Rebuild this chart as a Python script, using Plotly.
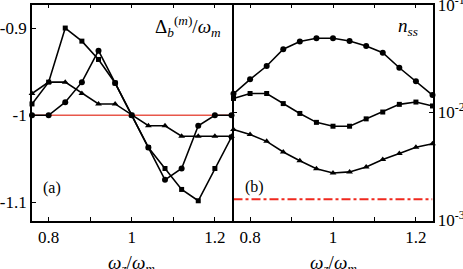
import plotly.graph_objects as go

wz = [0.76, 0.80, 0.84, 0.88, 0.92, 0.96, 1.00, 1.04, 1.08, 1.12, 1.16, 1.20, 1.24]

# panel (a): Delta_b^(m)/omega_m
delta_circle = [-1.000, -1.000, -0.985, -0.962, -0.926, -0.963, -1.000, -1.037, -1.074, -1.061, -1.012, -1.000, -1.000]
delta_square = [-0.987, -0.962, -0.900, -0.915, -0.936, -0.963, -1.000, -1.037, -1.061, -1.085, -1.098, -1.061, -1.025]
delta_triangle = [-0.975, -0.962, -0.962, -0.975, -0.987, -0.987, -1.000, -1.012, -1.012, -1.024, -1.024, -1.024, -1.024]
delta_ref = -1.0

# panel (b): n_ss
n_circle = [0.0149, 0.0203, 0.0270, 0.0386, 0.0455, 0.0488, 0.0488, 0.0460, 0.0414, 0.0359, 0.0260, 0.0195, 0.0145]
n_square = [0.0135, 0.0150, 0.0150, 0.0121, 0.0098, 0.0081, 0.00746, 0.00746, 0.00873, 0.0101, 0.0119, 0.0125, 0.0115]
n_triangle = [0.00695, 0.00624, 0.0054, 0.0043, 0.00357, 0.00301, 0.00275, 0.00281, 0.00312, 0.00366, 0.00416, 0.00476, 0.00512]
n_ref = 0.00157

x_ticks = [0.8, 0.9, 1.0, 1.1, 1.2]
x_ticktext = ["0.8", "", "1", "", "1.2"]
ya_ticks = [-1.1, -1.0, -0.9]
ya_ticktext = ["-1.1", "-1", "-0.9"]
yb_ticks = [0.001, 0.01, 0.1]
yb_ticktext = ["10<sup>-3</sup>", "10<sup>-2</sup>", "10<sup>-1</sup>"]

FONT = "Liberation Serif, DejaVu Serif, serif"
W, H = 463, 269

fig = go.Figure()

line = dict(color="black", width=1.6)

def add_series(x, y, symbol, size, xa, ya):
    fig.add_trace(go.Scatter(x=x, y=y, mode="lines+markers", line=line,
                             marker=dict(symbol=symbol, size=size, color="black"),
                             xaxis=xa, yaxis=ya, showlegend=False, cliponaxis=False))

# reference lines
fig.add_trace(go.Scatter(x=[wz[0], wz[-1]], y=[delta_ref, delta_ref], mode="lines",
                         line=dict(color="#e8574a", width=1.6), xaxis="x", yaxis="y", showlegend=False))
fig.add_trace(go.Scatter(x=[wz[0], wz[-1]], y=[n_ref, n_ref], mode="lines",
                         line=dict(color="#f0281e", width=2, dash="dashdot"), xaxis="x2", yaxis="y2", showlegend=False))

add_series(wz, delta_circle, "circle", 6, "x", "y")
add_series(wz, delta_square, "square", 5, "x", "y")
add_series(wz, delta_triangle, "triangle-up", 6, "x", "y")
add_series(wz, n_circle, "circle", 6, "x2", "y2")
add_series(wz, n_square, "square", 5, "x2", "y2")
add_series(wz, n_triangle, "triangle-up", 6, "x2", "y2")

dom_y = [1 - 220.5 / H, 1 - 4.5 / H]
ax_common = dict(showline=True, linecolor="black", linewidth=1.8, mirror="ticks", ticks="inside",
                 ticklen=4, tickwidth=1, tickcolor="black", showgrid=False, zeroline=False,
                 ticklabeloverflow="allow", automargin=False,
                 tickfont=dict(family=FONT, size=17, color="black"))

fig.update_layout(
    width=W, height=H, margin=dict(l=0, r=0, t=0, b=0, autoexpand=False),
    paper_bgcolor="white", plot_bgcolor="white",
    xaxis=dict(domain=[32 / W, 231.5 / W], range=[0.76, 1.24], tickvals=x_ticks, ticktext=x_ticktext,
               anchor="y", **ax_common),
    yaxis=dict(domain=dom_y, range=[-1.1206, -0.873], tickvals=ya_ticks, ticktext=ya_ticktext,
               anchor="x", **{**ax_common, "mirror": True}),
    xaxis2=dict(domain=[233.5 / W, 432.5 / W], range=[0.76, 1.24], tickvals=x_ticks, ticktext=x_ticktext,
                anchor="y2", **ax_common),
    yaxis2=dict(domain=dom_y, type="log", range=[-3.002, -0.998], tickvals=yb_ticks, ticktext=yb_ticktext,
                side="right", anchor="x2", **ax_common),
)

ann_font = dict(family=FONT, size=19, color="black")
fig.add_annotation(text="Δ<sub><i>b</i></sub><sup>(<i>m</i>)</sup>/<i>ω<sub>m</sub></i>", x=223 / W, y=1 - 27 / H,
                   xref="paper", yref="paper", xanchor="right", yanchor="middle", showarrow=False, font=ann_font)
fig.add_annotation(text="<i>n<sub>ss</sub></i>", x=420 / W, y=1 - 27 / H,
                   xref="paper", yref="paper", xanchor="right", yanchor="middle", showarrow=False, font=ann_font)
fig.add_annotation(text="(a)", x=41 / W, y=1 - 188 / H, xref="paper", yref="paper",
                   xanchor="left", yanchor="middle", showarrow=False, font=dict(family=FONT, size=16, color="black"))
fig.add_annotation(text="(b)", x=243 / W, y=1 - 187 / H, xref="paper", yref="paper",
                   xanchor="left", yanchor="middle", showarrow=False, font=dict(family=FONT, size=16, color="black"))
for cx in (131, 333):
    fig.add_annotation(text="<i>ω<sub>z</sub></i>/<i>ω<sub>m</sub></i>", x=cx / W, y=0, yshift=-9,
                       xref="paper", yref="paper", xanchor="center", yanchor="bottom", showarrow=False,
                       font=ann_font)

fig.write_html("out.html", config={"displayModeBar": False},
               post_script="document.body.style.margin='0';document.body.style.padding='0';")
